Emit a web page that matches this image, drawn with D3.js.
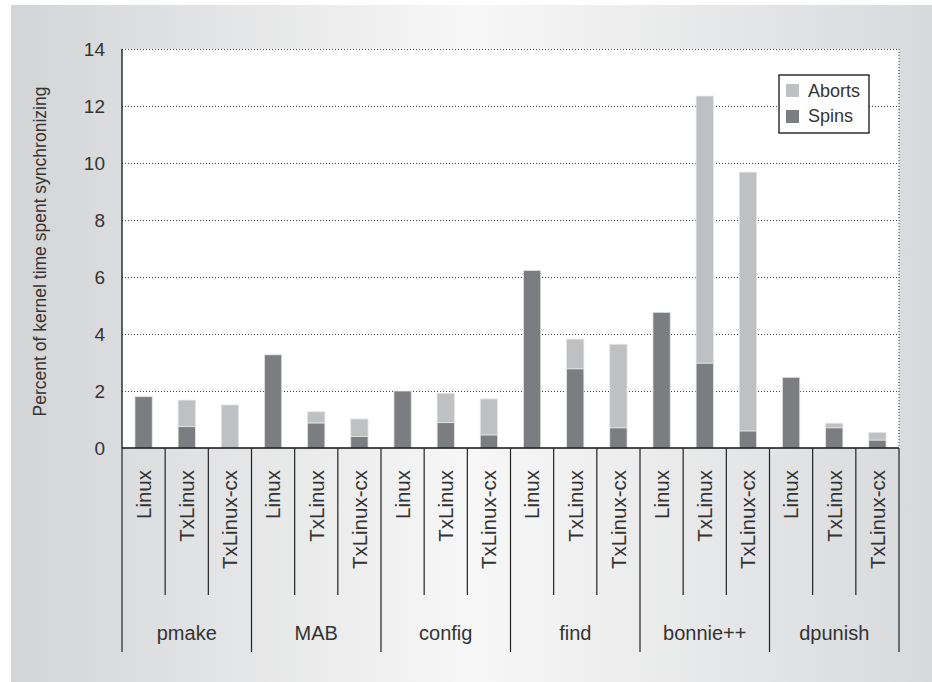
<!DOCTYPE html>
<html>
<head>
<meta charset="utf-8">
<script src="https://cdn.jsdelivr.net/npm/d3@7"></script>
<style>
  html, body { margin: 0; padding: 0; background: #fff; }
  svg text { font-family: "Liberation Sans", Arial, sans-serif; fill: #333; }
</style>
</head>
<body>
<div id="chart"></div>
<script>
// Benchmarks and the kernel variants measured under each
const benchmarks = ["pmake", "MAB", "config", "find", "bonnie++", "dpunish"];
const systems = ["Linux", "TxLinux", "TxLinux-cx"];

// Percent of kernel time, one row per benchmark, one entry per system
const spins = [
  [1.80, 0.75, 0.00],
  [3.27, 0.88, 0.40],
  [2.00, 0.89, 0.46],
  [6.23, 2.78, 0.71],
  [4.76, 2.98, 0.60],
  [2.48, 0.71, 0.28]
];
const aborts = [
  [0.00, 0.93, 1.51],
  [0.00, 0.39, 0.62],
  [0.00, 1.03, 1.26],
  [0.00, 1.04, 2.93],
  [0.00, 9.37, 9.08],
  [0.00, 0.16, 0.26]
];

const yTicks = [0, 2, 4, 6, 8, 10, 12, 14];
const seriesNames = ["Aborts", "Spins"];
const seriesColors = {Aborts: "#bfc0c2", Spins: "#7c7d81"};

// Layout
const width = 932, height = 682;
const margin = {top: 49, right: 33, bottom: 234, left: 122};
const plotW = width - margin.left - margin.right;
const plotH = height - margin.top - margin.bottom;

const svg = d3.select("#chart").append("svg")
  .attr("width", width)
  .attr("height", height);

// Gray panel with a soft horizontal highlight
const defs = svg.append("defs");
const grad = defs.append("linearGradient")
  .attr("id", "panelGrad")
  .attr("x1", "0%").attr("x2", "100%")
  .attr("y1", "0%").attr("y2", "0%");
grad.append("stop").attr("offset", "0%").attr("stop-color", "#d3d4d6");
grad.append("stop").attr("offset", "50%").attr("stop-color", "#f7f7f7");
grad.append("stop").attr("offset", "100%").attr("stop-color", "#d8d9db");

svg.append("rect")
  .attr("x", 11).attr("y", 5)
  .attr("width", width - 11).attr("height", height - 5)
  .attr("fill", "url(#panelGrad)");

const chart = svg.append("g")
  .attr("transform", `translate(${margin.left},${margin.top})`);

// Scales
const x0 = d3.scaleBand()
  .domain(benchmarks)
  .range([0, plotW])
  .padding(0);

const x1 = d3.scaleBand()
  .domain(systems)
  .range([0, x0.bandwidth()])
  .paddingInner(0.6)
  .paddingOuter(0.3);

const y = d3.scaleLinear()
  .domain([0, 14])
  .range([plotH, 0]);

// Plot background
chart.append("rect")
  .attr("width", plotW)
  .attr("height", plotH)
  .attr("fill", "#fff");

// Dotted grid lines
chart.append("g")
  .attr("class", "grid")
  .call(d3.axisLeft(y).tickValues(yTicks.slice(1)).tickSize(-plotW).tickFormat(""))
  .call(g => g.select(".domain").remove())
  .call(g => g.selectAll("line")
    .attr("stroke", "#444")
    .attr("stroke-width", 1)
    .attr("stroke-dasharray", "1,2"));

// Right dotted border
chart.append("line")
  .attr("x1", plotW).attr("x2", plotW)
  .attr("y1", 0).attr("y2", plotH)
  .attr("stroke", "#444")
  .attr("stroke-dasharray", "1,2");

// Y tick labels
chart.append("g")
  .call(d3.axisLeft(y).tickValues(yTicks).tickSize(0).tickPadding(17))
  .call(g => g.select(".domain").remove())
  .call(g => g.selectAll("text")
    .style("font-size", "19px")
    .attr("fill", "#333"));

// Stacked bars
const barData = [];
benchmarks.forEach((b, i) => {
  systems.forEach((s, j) => {
    barData.push({bench: b, sys: s, spins: spins[i][j], aborts: aborts[i][j]});
  });
});

const bars = chart.append("g").selectAll("g")
  .data(barData)
  .join("g")
  .attr("transform", d => `translate(${x0(d.bench) + x1(d.sys)},0)`);

bars.filter(d => d.spins > 0).append("rect")
  .attr("y", d => y(d.spins))
  .attr("width", x1.bandwidth())
  .attr("height", d => y(0) - y(d.spins))
  .attr("fill", seriesColors.Spins)
  .attr("stroke", "#e4e4e4")
  .attr("stroke-width", 0.8);

bars.filter(d => d.aborts > 0).append("rect")
  .attr("y", d => y(d.spins + d.aborts))
  .attr("width", x1.bandwidth())
  .attr("height", d => y(d.spins) - y(d.spins + d.aborts))
  .attr("fill", seriesColors.Aborts)
  .attr("stroke", "#e4e4e4")
  .attr("stroke-width", 0.8);

// Axis lines
chart.append("line")
  .attr("x1", 0).attr("x2", 0)
  .attr("y1", 0).attr("y2", plotH)
  .attr("stroke", "#111").attr("stroke-width", 1.3);
chart.append("line")
  .attr("x1", 0).attr("x2", plotW)
  .attr("y1", plotH).attr("y2", plotH)
  .attr("stroke", "#111").attr("stroke-width", 1.5);

// Category table under the axis
const subBottom = plotH + 147;
const groupBottom = plotH + 204;
const table = chart.append("g");

benchmarks.forEach(b => {
  const gx = x0(b);
  // group divider (left side)
  table.append("line")
    .attr("x1", gx).attr("x2", gx)
    .attr("y1", plotH).attr("y2", groupBottom)
    .attr("stroke", "#222").attr("stroke-width", 1.2);
  // dividers between systems
  systems.slice(1).forEach(s => {
    const sx = gx + x1(s) - x1.step() * x1.paddingInner() / 2;
    table.append("line")
      .attr("x1", sx).attr("x2", sx)
      .attr("y1", plotH).attr("y2", subBottom)
      .attr("stroke", "#222").attr("stroke-width", 1.2);
  });
  // system labels, rotated
  systems.forEach(s => {
    const cx = gx + x1(s) + x1.bandwidth() / 2;
    table.append("text")
      .attr("transform", `translate(${cx},${plotH + 22}) rotate(-90)`)
      .attr("text-anchor", "end")
      .attr("dy", "0.36em")
      .style("font-size", "20.5px")
      .text(s);
  });
  // benchmark label
  table.append("text")
    .attr("x", gx + x0.bandwidth() / 2)
    .attr("y", plotH + 192)
    .attr("text-anchor", "middle")
    .style("font-size", "20px")
    .text(b);
});

table.append("line")
  .attr("x1", plotW).attr("x2", plotW)
  .attr("y1", plotH).attr("y2", groupBottom)
  .attr("stroke", "#222").attr("stroke-width", 1.2);

// Y axis title
svg.append("text")
  .attr("transform", `translate(40,${margin.top + plotH / 2 + 3}) rotate(-90)`)
  .attr("text-anchor", "middle")
  .attr("dy", "0.35em")
  .style("font-size", "17.5px")
  .text("Percent of kernel time spent synchronizing");

// Legend
const legend = svg.append("g")
  .attr("transform", "translate(779,75)");

legend.append("rect")
  .attr("width", 90)
  .attr("height", 58)
  .attr("fill", "#fff")
  .attr("stroke", "#111")
  .attr("stroke-width", 1.3);

seriesNames.forEach((name, i) => {
  legend.append("rect")
    .attr("x", 7)
    .attr("y", 9 + i * 26)
    .attr("width", 13)
    .attr("height", 13)
    .attr("fill", seriesColors[name]);
  legend.append("text")
    .attr("x", 29)
    .attr("y", 22 + i * 24.5)
    .style("font-size", "18px")
    .text(name);
});
</script>
</body>
</html>
